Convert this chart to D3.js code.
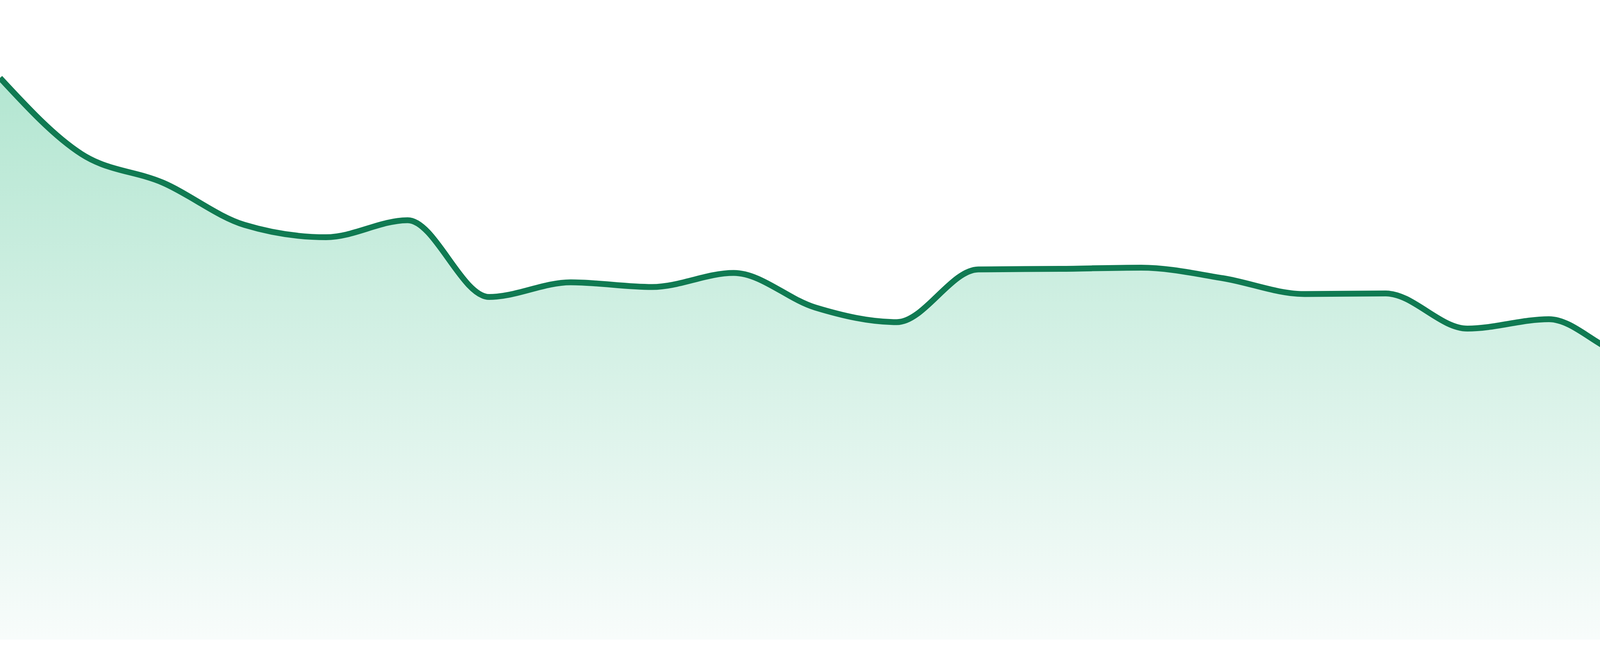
<!DOCTYPE html>
<html>
<head>
<meta charset="utf-8">
<script src="https://cdn.jsdelivr.net/npm/d3@7"></script>
<style>
  html, body { margin: 0; padding: 0; background: #fff; overflow: hidden; }
  svg { display: block; }
</style>
</head>
<body>
<div id="chart"></div>
<script>
// Series values, one per evenly spaced step (no axis labels shown in the chart)
const values = [95.9, 82.9, 78.0, 70.8, 68.7, 71.6, 58.5, 61.0, 60.2, 62.6, 56.7, 54.2,
                63.2, 63.3, 63.5, 61.7, 59.0, 59.1, 53.1, 54.7, 48.6, 51.1, 47.3, 43.5];
const yDomain = [0, 100];

const width = 4800,
      height = 1680,
      margin = {top: 138, right: 0, bottom: 42, left: 0};

const svg = d3.select("#chart").append("svg")
    .attr("width", width)
    .attr("height", height);

const x = d3.scaleLinear()
    .domain([0, values.length - 1])
    .range([margin.left, width - margin.right]);

const y = d3.scaleLinear()
    .domain(yDomain)
    .range([height - margin.bottom, margin.top]);

// Fill gradient: light green at the peak of the area fading to almost white
const grad = svg.append("defs").append("linearGradient")
    .attr("id", "fillGrad")
    .attr("gradientUnits", "userSpaceOnUse")
    .attr("x1", 0).attr("x2", 0)
    .attr("y1", y(d3.max(values)))
    .attr("y2", y(0));
grad.append("stop").attr("offset", "0%").attr("stop-color", "#b3e6d1");
grad.append("stop").attr("offset", "100%").attr("stop-color", "#f8fcfb");

const area = d3.area()
    .x((d, i) => x(i))
    .y0(y(0))
    .y1(d => y(d))
    .curve(d3.curveMonotoneX);

const line = d3.line()
    .x((d, i) => x(i))
    .y(d => y(d))
    .curve(d3.curveMonotoneX);

svg.append("path")
    .datum(values)
    .attr("fill", "url(#fillGrad)")
    .attr("d", area);

svg.append("path")
    .datum(values)
    .attr("fill", "none")
    .attr("stroke", "#107a52")
    .attr("stroke-width", 15)
    .attr("stroke-linejoin", "round")
    .attr("d", line);
</script>
</body>
</html>
